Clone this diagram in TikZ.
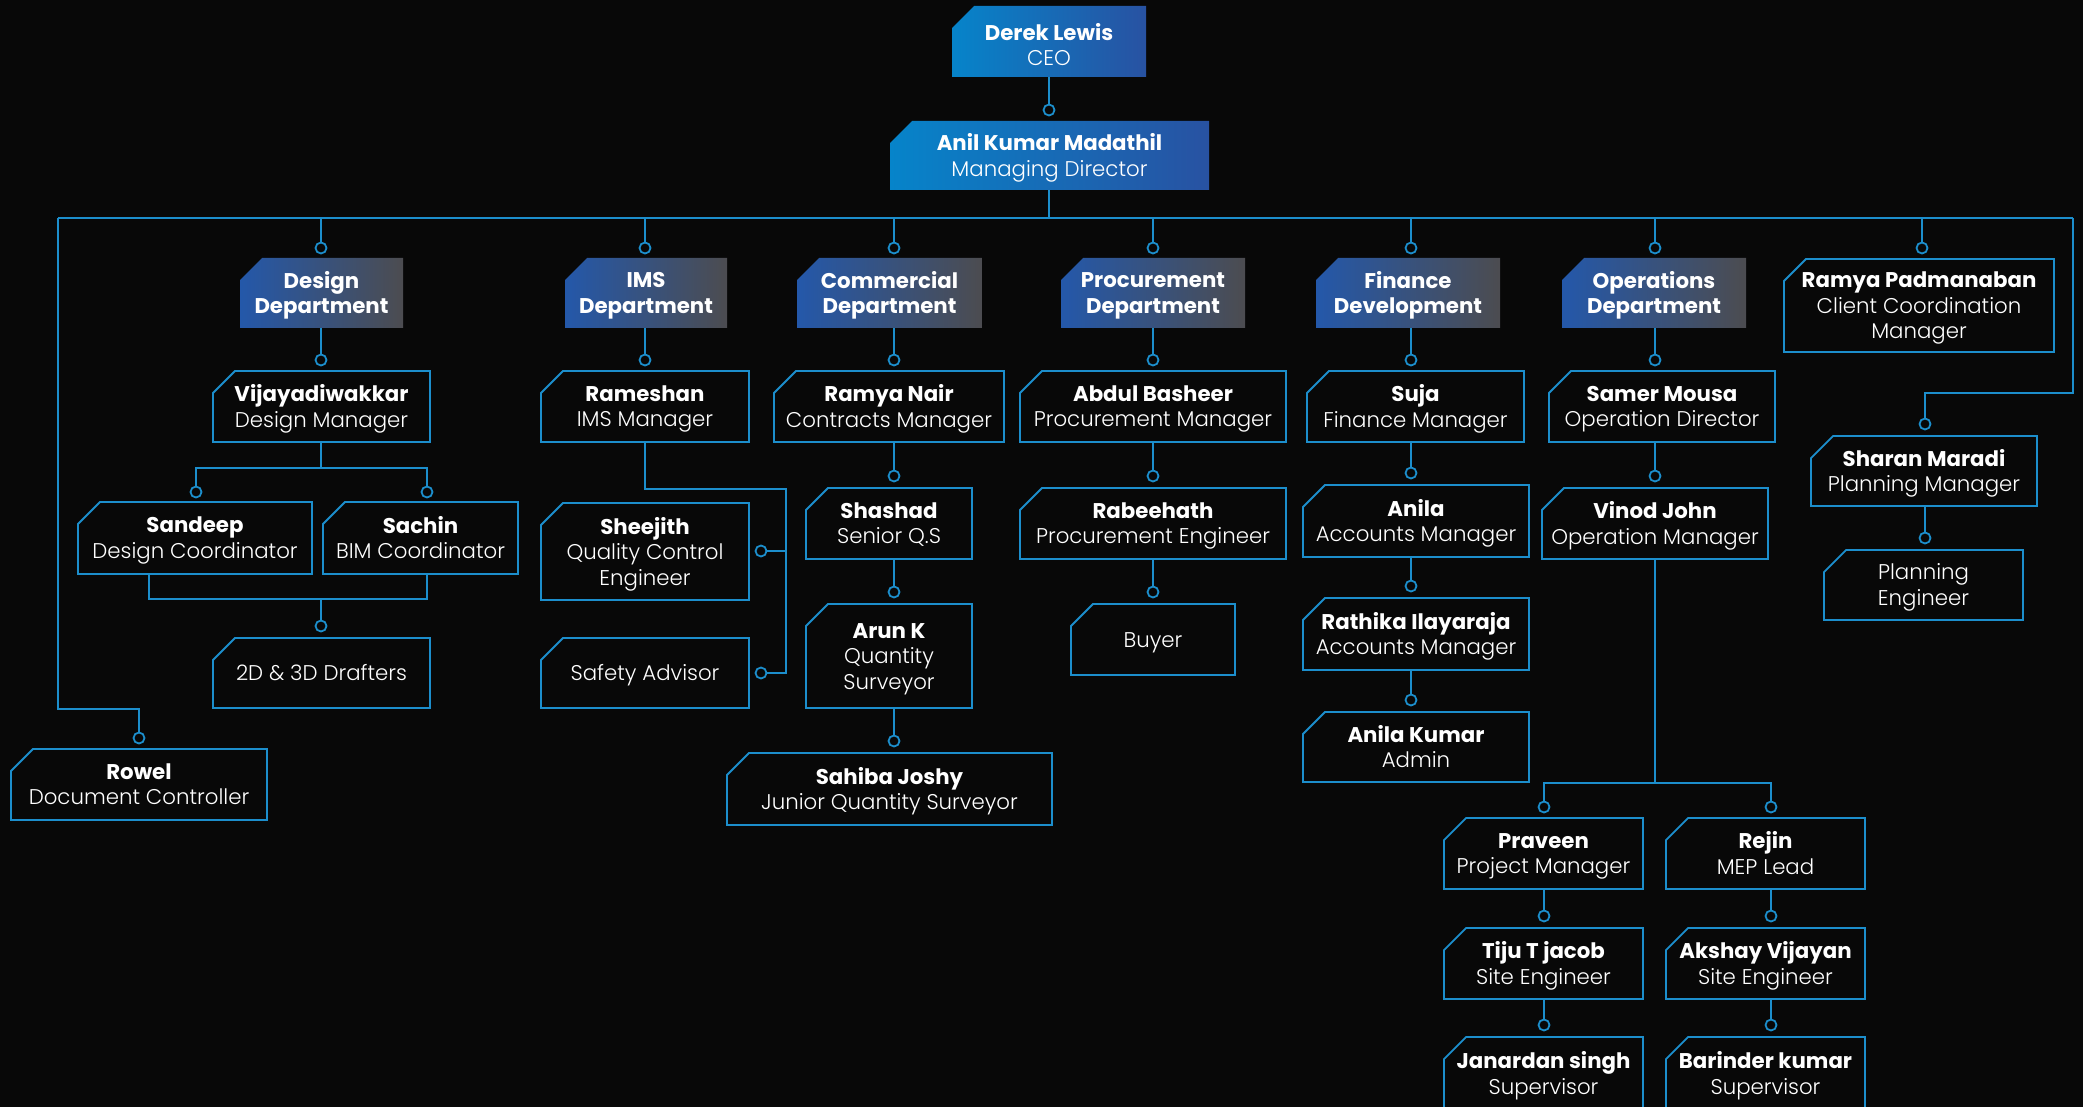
\documentclass[tikz,border=0pt]{standalone}
\usepackage{fontspec}
\setmainfont{Poppins}
\newfontfamily\lightf{Poppins}[UprightFont=* Light]
\usetikzlibrary{calc}
\definecolor{bgc}{RGB}{8,8,8}
\definecolor{linec}{RGB}{28,142,204}
\definecolor{ceoL}{RGB}{6,132,202}
\definecolor{ceoR}{RGB}{40,82,162}
\definecolor{depL}{RGB}{36,88,170}
\definecolor{depR}{RGB}{76,76,80}
\newcommand\sx{\rule[-6pt]{0pt}{22pt}}
\newcommand\orgbox[8][2.5]{%
  \path[#3] ({#4+22},#5) -- (#6,#5) -- (#6,#7) -- (#4,#7) -- (#4,{#5+22}) -- cycle;
  \node[inner sep=0pt, outer sep=0pt, minimum width={#6-#4}, minimum height={#7-#5}] (#2) at ({(#4+#6)/2},{(#5+#7)/2}) {};
  \node[boxtext] (#2-t) at ($(#2.center)+(0,#1)$) {\sx#8\sx};
}
\newcommand\nm[1]{{\normalfont\bfseries #1}}
\begin{document}
\begin{tikzpicture}[x=1pt,y=-1pt,
  conn/.style={draw=linec, line width=1.8pt},
  dot/.style={circle, draw=linec, line width=1.8pt, fill=bgc, minimum size=11pt, inner sep=0pt, outer sep=0pt},
  outlinebox/.style={draw=linec, line width=1.8pt, fill=bgc},
  topbox/.style={left color=ceoL, right color=ceoR},
  deptbox/.style={left color=depL, right color=depR},
  boxtext/.style={text=white, align=center, font=\lightf\fontsize{21.3}{25.5}\selectfont, inner sep=0pt, outer sep=0pt},
]
\useasboundingbox (0,0) rectangle (2083,1107);
\clip (0,0) rectangle (2083,1107);
\fill[bgc] (0,0) rectangle (2083,1107);

% ---------- boxes ----------
\orgbox[6]{ceo}{topbox}{952}{6}{1146}{77}{\nm{Derek Lewis}\\CEO}
\orgbox{md}{topbox}{890}{121}{1209}{190}{\nm{Anil Kumar Madathil}\\Managing Director}

\orgbox{design}{deptbox}{240}{258}{403}{328}{\nm{Design}\\\nm{Department}}
\orgbox{ims}{deptbox}{565}{258}{727}{328}{\nm{IMS}\\\nm{Department}}
\orgbox{com}{deptbox}{797}{258}{982}{328}{\nm{Commercial}\\\nm{Department}}
\orgbox{proc}{deptbox}{1061}{258}{1245}{328}{\nm{Procurement}\\\nm{Department}}
\orgbox{fin}{deptbox}{1316}{258}{1500}{328}{\nm{Finance}\\\nm{Development}}
\orgbox{ops}{deptbox}{1562}{258}{1746}{328}{\nm{Operations}\\\nm{Department}}
\orgbox{rpad}{outlinebox}{1784}{259}{2054}{352}{\nm{Ramya Padmanaban}\\Client Coordination\\Manager}

\orgbox{vijay}{outlinebox}{213}{371}{430}{442}{\nm{Vijayadiwakkar}\\Design Manager}
\orgbox{rameshan}{outlinebox}{541}{371}{749}{442}{\nm{Rameshan}\\IMS Manager}
\orgbox{rnair}{outlinebox}{774}{371}{1004}{442}{\nm{Ramya Nair}\\Contracts Manager}
\orgbox{abdul}{outlinebox}{1020}{371}{1286}{442}{\nm{Abdul Basheer}\\Procurement Manager}
\orgbox{suja}{outlinebox}{1307}{371}{1524}{442}{\nm{Suja}\\Finance Manager}
\orgbox{samer}{outlinebox}{1549}{371}{1775}{442}{\nm{Samer Mousa}\\Operation Director}

\orgbox{sandeep}{outlinebox}{78}{502}{312}{574}{\nm{Sandeep}\\Design Coordinator}
\orgbox{sachin}{outlinebox}{323}{502}{518}{574}{\nm{Sachin}\\BIM Coordinator}
\orgbox{draft}{outlinebox}{213}{638}{430}{708}{2D \& 3D Drafters}
\orgbox{rowel}{outlinebox}{11}{749}{267}{820}{\nm{Rowel}\\Document Controller}

\orgbox{shee}{outlinebox}{541}{503}{749}{600}{\nm{Sheejith}\\Quality Control\\Engineer}
\orgbox{safe}{outlinebox}{541}{638}{749}{708}{Safety Advisor}

\orgbox{shashad}{outlinebox}{806}{488}{972}{559}{\nm{Shashad}\\Senior Q.S}
\orgbox{arun}{outlinebox}{806}{604}{972}{708}{\nm{Arun K}\\Quantity\\Surveyor}
\orgbox{sahiba}{outlinebox}{727}{753}{1052}{825}{\nm{Sahiba Joshy}\\Junior Quantity Surveyor}

\orgbox{rabee}{outlinebox}{1020}{488}{1286}{559}{\nm{Rabeehath}\\Procurement Engineer}
\orgbox{buyer}{outlinebox}{1071}{604}{1235}{675}{Buyer}

\orgbox{anila}{outlinebox}{1303}{485}{1529}{557}{\nm{Anila}\\Accounts Manager}
\orgbox{rathika}{outlinebox}{1303}{598}{1529}{670}{\nm{Rathika Ilayaraja}\\Accounts Manager}
\orgbox{anilak}{outlinebox}{1303}{712}{1529}{782}{\nm{Anila Kumar}\\Admin}

\orgbox{vinod}{outlinebox}{1542}{488}{1768}{559}{\nm{Vinod John}\\Operation Manager}
\orgbox{praveen}{outlinebox}{1444}{818}{1643}{889}{\nm{Praveen}\\Project Manager}
\orgbox{rejin}{outlinebox}{1666}{818}{1865}{889}{\nm{Rejin}\\MEP Lead}
\orgbox{tiju}{outlinebox}{1444}{928}{1643}{999}{\nm{Tiju T jacob}\\Site Engineer}
\orgbox{akshay}{outlinebox}{1666}{928}{1865}{999}{\nm{Akshay Vijayan}\\Site Engineer}
\orgbox{janardan}{outlinebox}{1444}{1037}{1643}{1110}{\nm{Janardan singh}\\Supervisor}
\orgbox{barinder}{outlinebox}{1666}{1037}{1865}{1110}{\nm{Barinder kumar}\\Supervisor}

\orgbox{sharan}{outlinebox}{1811}{436}{2037}{506}{\nm{Sharan Maradi}\\Planning Manager}
\orgbox{planeng}{outlinebox}{1824}{550}{2023}{620}{Planning\\Engineer}

% ---------- connectors ----------
\node[dot] (k-md) at (1049,110) {};
\draw[conn] (ceo.south -| k-md) -- (k-md.north);
\coordinate (bus-c) at (1049,218);
\coordinate (bus-l) at (58,218);
\coordinate (bus-r) at (2073,218);
\draw[conn] (md.south -| bus-c) -- (bus-c);
\draw[conn] (bus-l) -- (bus-r);

\node[dot] (k-design) at (321,248) {};
\node[dot] (k-ims) at (645,248) {};
\node[dot] (k-com) at (894,248) {};
\node[dot] (k-proc) at (1153,248) {};
\node[dot] (k-fin) at (1411,248) {};
\node[dot] (k-ops) at (1655,248) {};
\node[dot] (k-rpad) at (1922,248) {};
\foreach \k in {k-design,k-ims,k-com,k-proc,k-fin,k-ops,k-rpad}
  \draw[conn] (\k.north |- bus-l) -- (\k.north);

\node[dot] (k-vijay) at (321,360) {};
\node[dot] (k-rameshan) at (645,360) {};
\node[dot] (k-rnair) at (894,360) {};
\node[dot] (k-abdul) at (1153,360) {};
\node[dot] (k-suja) at (1411,360) {};
\node[dot] (k-samer) at (1655,360) {};
\draw[conn] (design.south -| k-vijay) -- (k-vijay.north);
\draw[conn] (ims.south -| k-rameshan) -- (k-rameshan.north);
\draw[conn] (com.south -| k-rnair) -- (k-rnair.north);
\draw[conn] (proc.south -| k-abdul) -- (k-abdul.north);
\draw[conn] (fin.south -| k-suja) -- (k-suja.north);
\draw[conn] (ops.south -| k-samer) -- (k-samer.north);

% design
\coordinate (des-j) at (321,468);
\node[dot] (k-sandeep) at (196,492) {};
\node[dot] (k-sachin) at (427,492) {};
\draw[conn] (vijay.south -| des-j) -- (des-j);
\draw[conn] (k-sandeep.north) |- (des-j) -| (k-sachin.north);
\coordinate (des-b1) at (149,599);
\coordinate (des-b2) at (427,599);
\draw[conn] (sandeep.south -| des-b1) -- (des-b1) -- (des-b2) -- (sachin.south -| des-b2);
\node[dot] (k-draft) at (321,626) {};
\draw[conn] (k-draft.north |- des-b1) -- (k-draft.north);

% rowel
\coordinate (rw-j) at (58,709);
\node[dot] (k-rowel) at (139,738) {};
\draw[conn] (bus-l) -- (rw-j) -| (k-rowel.north);

% ims
\coordinate (ims-j) at (786,489);
\node[dot] (k-shee) at (761,551) {};
\node[dot] (k-safe) at (761,673) {};
\draw[conn] (rameshan.south) |- (ims-j) -- (ims-j |- k-safe) -- (k-safe.east);
\draw[conn] (ims-j |- k-shee) -- (k-shee.east);

% commercial
\node[dot] (k-shashad) at (894,476) {};
\node[dot] (k-arun) at (894,592) {};
\node[dot] (k-sahiba) at (894,741) {};
\draw[conn] (rnair.south -| k-shashad) -- (k-shashad.north);
\draw[conn] (shashad.south -| k-arun) -- (k-arun.north);
\draw[conn] (arun.south -| k-sahiba) -- (k-sahiba.north);

% procurement
\node[dot] (k-rabee) at (1153,476) {};
\node[dot] (k-buyer) at (1153,592) {};
\draw[conn] (abdul.south -| k-rabee) -- (k-rabee.north);
\draw[conn] (rabee.south -| k-buyer) -- (k-buyer.north);

% finance
\node[dot] (k-anila) at (1411,473) {};
\node[dot] (k-rathika) at (1411,586) {};
\node[dot] (k-anilak) at (1411,700) {};
\draw[conn] (suja.south -| k-anila) -- (k-anila.north);
\draw[conn] (anila.south -| k-rathika) -- (k-rathika.north);
\draw[conn] (rathika.south -| k-anilak) -- (k-anilak.north);

% operations
\node[dot] (k-vinod) at (1655,476) {};
\draw[conn] (samer.south -| k-vinod) -- (k-vinod.north);
\coordinate (ops-j) at (1655,783);
\node[dot] (k-praveen) at (1544,807) {};
\node[dot] (k-rejin) at (1771,807) {};
\draw[conn] (vinod.south -| ops-j) -- (ops-j);
\draw[conn] (k-praveen.north) |- (ops-j) -| (k-rejin.north);
\node[dot] (k-tiju) at (1544,916) {};
\node[dot] (k-akshay) at (1771,916) {};
\node[dot] (k-janardan) at (1544,1025) {};
\node[dot] (k-barinder) at (1771,1025) {};
\draw[conn] (praveen.south -| k-tiju) -- (k-tiju.north);
\draw[conn] (rejin.south -| k-akshay) -- (k-akshay.north);
\draw[conn] (tiju.south -| k-janardan) -- (k-janardan.north);
\draw[conn] (akshay.south -| k-barinder) -- (k-barinder.north);

% right side
\coordinate (rt-j) at (2073,393);
\node[dot] (k-sharan) at (1925,424) {};
\draw[conn] (bus-r) -- (rt-j) -| (k-sharan.north);
\node[dot] (k-planeng) at (1925,538) {};
\draw[conn] (sharan.south -| k-planeng) -- (k-planeng.north);
\end{tikzpicture}
\end{document}
